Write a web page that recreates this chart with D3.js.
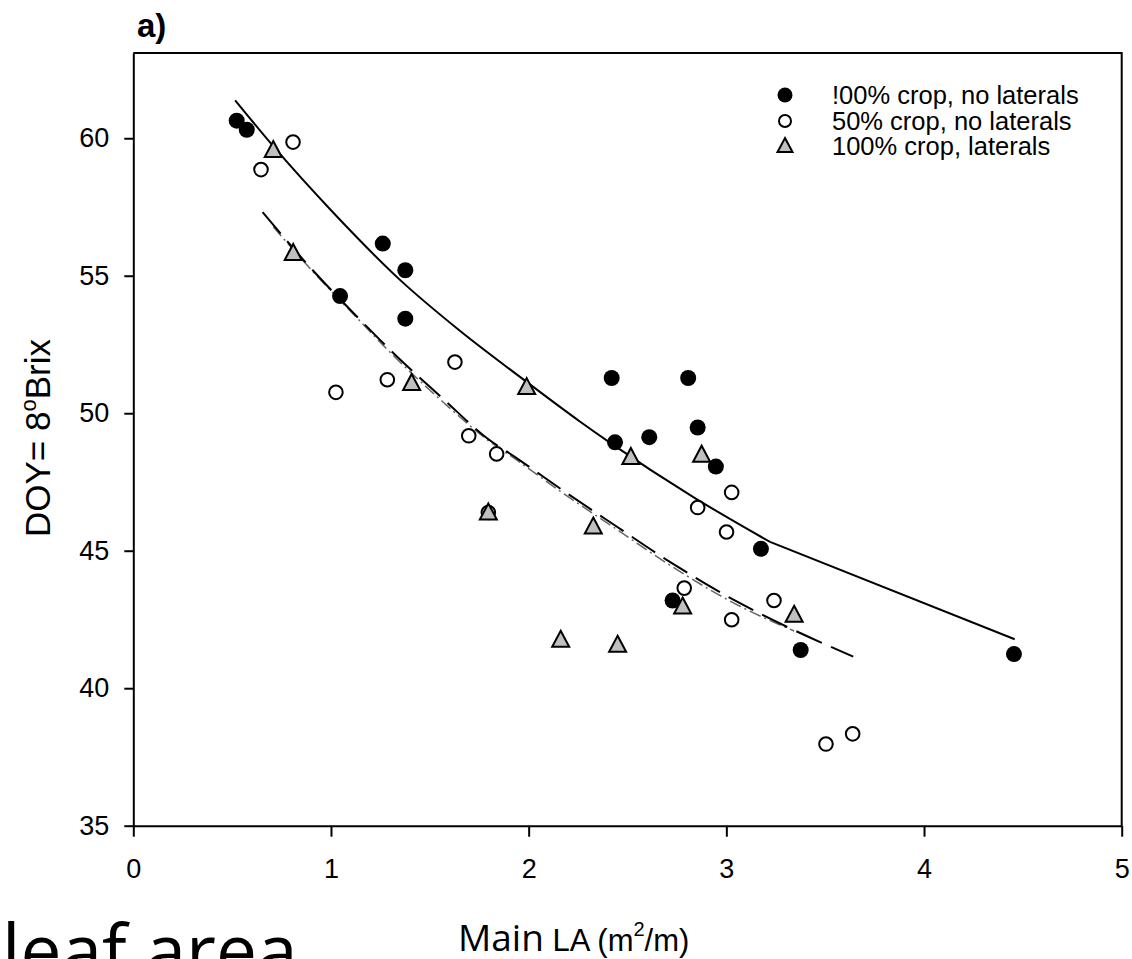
<!DOCTYPE html>
<html>
<head>
<meta charset="utf-8">
<script src="https://cdn.jsdelivr.net/npm/d3@7"></script>
<style>
  body { margin: 0; background: #fff; }
  svg { display: block; }
</style>
</head>
<body>
<svg id="chart"></svg>
<script>
// ticks
const xTicks = [0, 1, 2, 3, 4, 5];
const yTicks = [35, 40, 45, 50, 55, 60];

// !00% crop, no laterals (filled circles)
const fullX = [0.523, 0.574, 1.262, 1.376, 1.046, 1.376, 2.420, 2.807, 2.855, 2.437, 2.610, 2.947, 3.175, 2.728, 3.376, 4.455];
const fullY = [60.64, 60.31, 56.17, 55.20, 54.26, 53.44, 51.28, 51.28, 49.48, 48.94, 49.13, 48.06, 45.07, 43.19, 41.39, 41.24];

// 50% crop, no laterals (open circles)
const halfX = [0.646, 0.808, 1.025, 1.285, 1.627, 1.697, 1.838, 1.796, 2.855, 3.027, 3.001, 2.787, 3.241, 3.027, 3.504, 3.639];
const halfY = [58.86, 59.86, 50.76, 51.22, 51.86, 49.18, 48.52, 46.39, 46.57, 47.12, 45.68, 43.64, 43.19, 42.49, 37.97, 38.34];

// 100% crop, laterals (grey triangles)
const latX = [0.708, 0.809, 1.408, 1.990, 1.796, 2.517, 2.875, 2.327, 2.779, 3.343, 2.162, 2.450];
const latY = [59.57, 55.83, 51.10, 50.95, 46.39, 48.41, 48.49, 45.88, 42.97, 42.67, 41.76, 41.58];

// fitted curves
const fitFullX = [0.515, 0.708, 1.012, 1.349, 1.652, 1.973, 2.259, 2.411, 2.833, 3.221];
const fitFullY = [61.38, 59.71, 57.29, 54.85, 53.00, 51.23, 49.70, 48.93, 46.95, 45.32];
const fitFullTailX = [3.221, 4.459];
const fitFullTailY = [45.32, 41.78];
const fitHalfX = [0.654, 0.890, 1.147, 1.315, 1.568, 1.788, 1.939, 2.192, 2.445, 2.698, 3.069, 3.322, 3.642];
const fitHalfY = [57.31, 55.34, 53.40, 52.19, 50.52, 49.10, 48.37, 47.10, 45.88, 44.67, 43.09, 42.18, 41.15];
const fitLatX = [0.708, 0.890, 1.147, 1.315, 1.568, 1.788, 1.939, 2.192, 2.445, 2.698, 3.069, 3.343];
const fitLatY = [56.78, 55.30, 53.35, 52.10, 50.40, 49.05, 48.30, 47.00, 45.78, 44.55, 42.98, 42.08];

const legendLabels = ["!00% crop, no laterals", "50% crop, no laterals", "100% crop, laterals"];

const W = 1132, H = 959;
const plot = { left: 133.3, right: 1121.7, top: 53, bottom: 825.7 };
const arial = "'Liberation Sans', Arial, Helvetica, sans-serif";

const svg = d3.select("#chart").attr("width", W).attr("height", H);

const x = d3.scaleLinear().domain([0, 5]).range([plot.left, plot.right]);
const y = d3.scaleLinear().domain([35, 63.1]).range([plot.bottom, plot.top]);

const zip = (xs, ys) => xs.map((v, i) => [v, ys[i]]);

// frame (top and right)
svg.append("path")
  .attr("d", `M${plot.left},${plot.top}H${plot.right}V${plot.bottom}`)
  .attr("fill", "none").attr("stroke", "#000").attr("stroke-width", 2);

// X axis
const xAxis = svg.append("g")
  .attr("transform", `translate(0,${plot.bottom})`)
  .call(d3.axisBottom(x).tickValues(xTicks).tickFormat(d3.format("d"))
    .tickSize(11).tickSizeOuter(0).tickPadding(22));
// Y axis
const yAxis = svg.append("g")
  .attr("transform", `translate(${plot.left},0)`)
  .call(d3.axisLeft(y).tickValues(yTicks).tickFormat(d3.format("d"))
    .tickSize(9).tickSizeOuter(0).tickPadding(15));

[xAxis, yAxis].forEach(g => {
  g.select(".domain").attr("stroke-width", 2);
  g.selectAll(".tick line").attr("stroke-width", 2);
  g.selectAll(".tick text").attr("font-family", arial).attr("font-size", 27).attr("fill", "#000");
});

// fitted lines
const smooth = d3.line().x(d => x(d[0])).y(d => y(d[1])).curve(d3.curveMonotoneX);
const straight = d3.line().x(d => x(d[0])).y(d => y(d[1]));
svg.append("path").datum(zip(fitFullX, fitFullY))
  .attr("d", smooth).attr("fill", "none").attr("stroke", "#000").attr("stroke-width", 2);
svg.append("path").datum(zip(fitFullTailX, fitFullTailY))
  .attr("d", straight).attr("fill", "none").attr("stroke", "#000").attr("stroke-width", 2);
svg.append("path").datum(zip(fitLatX, fitLatY))
  .attr("d", smooth).attr("fill", "none").attr("stroke", "#666").attr("stroke-width", 1.5)
  .attr("stroke-dasharray", "12,4,2,4");
svg.append("path").datum(zip(fitHalfX, fitHalfY))
  .attr("d", smooth).attr("fill", "none").attr("stroke", "#000").attr("stroke-width", 2)
  .attr("stroke-dasharray", "28,10");

// markers
const triPath = "M0,-9L8.5,7L-8.5,7Z";
const triSmall = "M0,-8L7.5,6L-7.5,6Z";

svg.append("g").selectAll("circle")
  .data(zip(fullX, fullY))
  .join("circle")
  .attr("cx", d => x(d[0])).attr("cy", d => y(d[1]))
  .attr("r", 8).attr("fill", "#000");

svg.append("g").selectAll("circle")
  .data(zip(halfX, halfY))
  .join("circle")
  .attr("cx", d => x(d[0])).attr("cy", d => y(d[1]))
  .attr("r", 6.8).attr("fill", "#fff").attr("stroke", "#000").attr("stroke-width", 2);

svg.append("g").selectAll("path")
  .data(zip(latX, latY))
  .join("path")
  .attr("transform", d => `translate(${x(d[0])},${y(d[1])})`)
  .attr("d", triPath).attr("fill", "#c0c0c0").attr("stroke", "#000").attr("stroke-width", 2);

// legend
const legend = svg.append("g").attr("transform", "translate(785,0)");
const rowY = [95, 121, 146];
legend.append("circle").attr("cx", 0).attr("cy", rowY[0]).attr("r", 7.5).attr("fill", "#000");
legend.append("circle").attr("cx", 0).attr("cy", rowY[1]).attr("r", 6).attr("fill", "#fff")
  .attr("stroke", "#000").attr("stroke-width", 2);
legend.append("path").attr("transform", `translate(0,${rowY[2]})`).attr("d", triSmall)
  .attr("fill", "#c0c0c0").attr("stroke", "#000").attr("stroke-width", 2);
legend.selectAll("text")
  .data(legendLabels)
  .join("text")
  .attr("x", 47)
  .attr("y", (d, i) => rowY[i] + 9)
  .attr("font-family", arial).attr("font-size", 25.5)
  .text(d => d);

// panel label
svg.append("text")
  .attr("x", 137).attr("y", 37)
  .attr("font-family", arial).attr("font-size", 33).attr("font-weight", "bold")
  .text("a)");

// y axis label
const yLab = svg.append("text")
  .attr("transform", "translate(50,438) rotate(-90)")
  .attr("text-anchor", "middle")
  .attr("font-family", arial).attr("font-size", 35);
yLab.append("tspan").text("DOY= 8");
yLab.append("tspan").attr("font-size", 22).attr("dy", -14).text("o");
yLab.append("tspan").attr("dy", 14).text("Brix");

// x axis label
const xLab = svg.append("text")
  .attr("x", 458).attr("y", 951);
xLab.append("tspan").attr("font-family", "'Open Sans', sans-serif").attr("font-size", 37).text("Main");
xLab.append("tspan").attr("font-family", arial).attr("font-size", 31).text(" LA (m");
xLab.append("tspan").attr("font-family", arial).attr("font-size", 20).attr("dy", -15).text("2");
xLab.append("tspan").attr("font-family", arial).attr("font-size", 31).attr("dy", 15).text("/m)");

// slide text cut at the bottom
svg.append("text")
  .attr("x", 2).attr("y", 977)
  .attr("font-family", "'Open Sans', sans-serif").attr("font-size", 73)
  .text("leaf area");
</script>
</body>
</html>
